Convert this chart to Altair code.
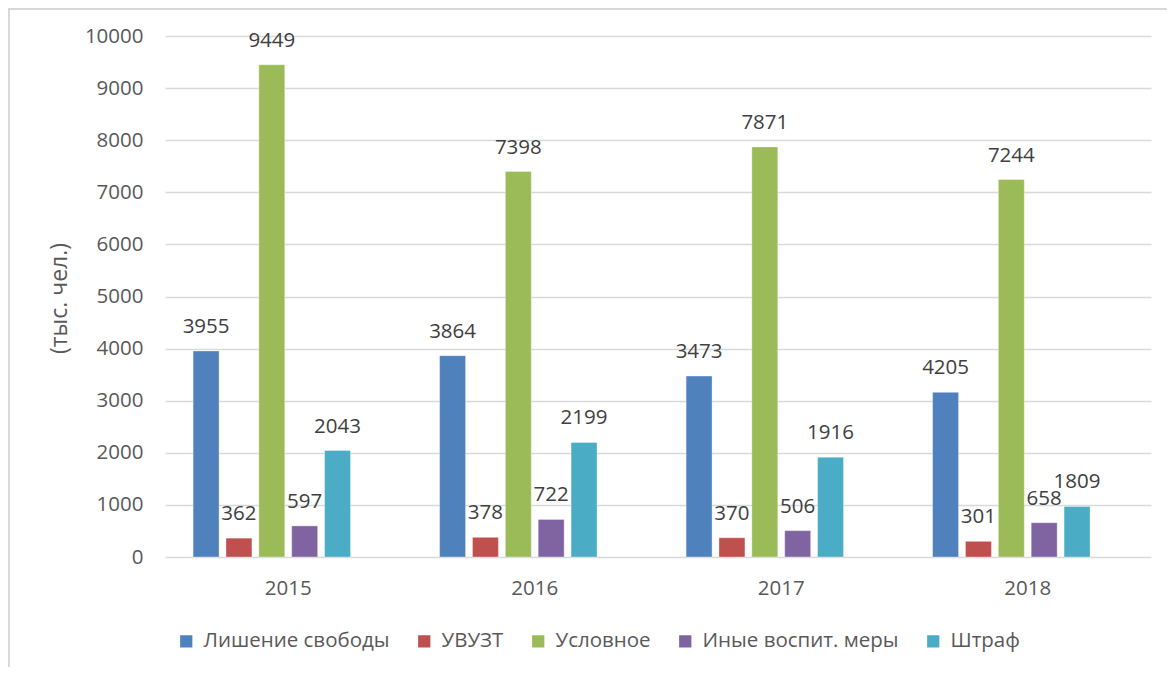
import altair as alt
import pandas as pd

years = ["2015", "2016", "2017", "2018"]
series = ["Лишение свободы", "УВУЗТ", "Условное", "Иные воспит. меры", "Штраф"]
colors = ["#4F81BD", "#C0504D", "#9BBB59", "#8064A2", "#4BACC6"]

# bar heights as drawn
lishenie = [3955, 3864, 3473, 3160]
uvuzt = [362, 378, 370, 301]
uslovnoe = [9449, 7398, 7871, 7244]
inye = [597, 722, 506, 658]
shtraf = [2043, 2199, 1916, 970]

# data labels as printed
lishenie_labels = [3955, 3864, 3473, 4205]
uvuzt_labels = [362, 378, 370, 301]
uslovnoe_labels = [9449, 7398, 7871, 7244]
inye_labels = [597, 722, 506, 658]
shtraf_labels = [2043, 2199, 1916, 1809]

y_ticks = list(range(0, 10001, 1000))

values = [lishenie, uvuzt, uslovnoe, inye, shtraf]
labels = [lishenie_labels, uvuzt_labels, uslovnoe_labels, inye_labels, shtraf_labels]

rows = []
for s, vals, labs in zip(series, values, labels):
    for y, v, l in zip(years, vals, labs):
        rows.append({"year": y, "series": s, "value": v, "label": str(l)})
df = pd.DataFrame(rows)

FONT = "Open Sans"
FS = 20.5

x_enc = alt.X("year:N", sort=years, title=None,
              scale=alt.Scale(paddingInner=0.2, paddingOuter=0.1),
              axis=alt.Axis(labelAngle=0, labelFontSize=FS, labelColor="#595959",
                            labelFont=FONT, ticks=False, domain=False, grid=False,
                            labelPadding=21))
off_enc = alt.XOffset("series:N",
                      scale=alt.Scale(domain=series + ["_"], paddingInner=0.21, paddingOuter=0.105))
y_enc = alt.Y("value:Q", scale=alt.Scale(domain=[0, 10000], nice=False),
              axis=alt.Axis(values=y_ticks, format="d", labelFontSize=FS, labelColor="#595959",
                            labelFont=FONT, ticks=False, domain=False, labelPadding=22,
                            gridColor="#d9d9d9", gridWidth=1.3,
                            title="(тыс. чел.)", titleFontSize=23, titleFont=FONT,
                            titleFontWeight="normal", titleColor="#595959",
                            titleX=-106, titleY=262, titleAngle=270,
                            titleAlign="center", titleBaseline="middle"))

bars = alt.Chart(df).mark_bar(stroke="#ffffff", strokeWidth=0.6, strokeOpacity=0.6).encode(
    x=x_enc,
    xOffset=off_enc,
    y=y_enc,
    color=alt.Color("series:N", scale=alt.Scale(domain=series, range=colors),
                    legend=alt.Legend(title=None, orient="none", legendX=11, legendY=595,
                                      direction="horizontal", columns=5,
                                      symbolType="square", symbolSize=150,
                                      symbolStrokeWidth=0, labelFontSize=FS,
                                      labelFont=FONT, labelColor="#595959", labelLimit=400,
                                      columnPadding=24, labelOffset=7, padding=0)),
)

text = alt.Chart(df).mark_text(fontSize=FS, font=FONT, color="#404040",
                               baseline="middle", dy=-24).encode(
    x=alt.X("year:N", sort=years),
    xOffset=alt.XOffset("series:N", scale=alt.Scale(domain=series + ["_"])),
    y=alt.Y("value:Q"),
    text="label:N",
)

border_top = alt.Chart(df).mark_rule(color="#d9d9d9", strokeWidth=2).encode(
    x=alt.value(-157), x2=alt.value(1002), y=alt.value(-27))
border_left = alt.Chart(df).mark_rule(color="#d9d9d9", strokeWidth=2).encode(
    x=alt.value(-156), y=alt.value(-28), y2=alt.value(631))

chart = alt.layer(bars, text, border_top, border_left).properties(
    width=986, height=521,
    autosize=alt.AutoSizeParams(type="none"),
    padding={"left": 157, "top": 28, "right": 16, "bottom": 110},
).configure_view(stroke=None)

chart.save("out.html", embed_options={"renderer": "svg", "actions": False})
